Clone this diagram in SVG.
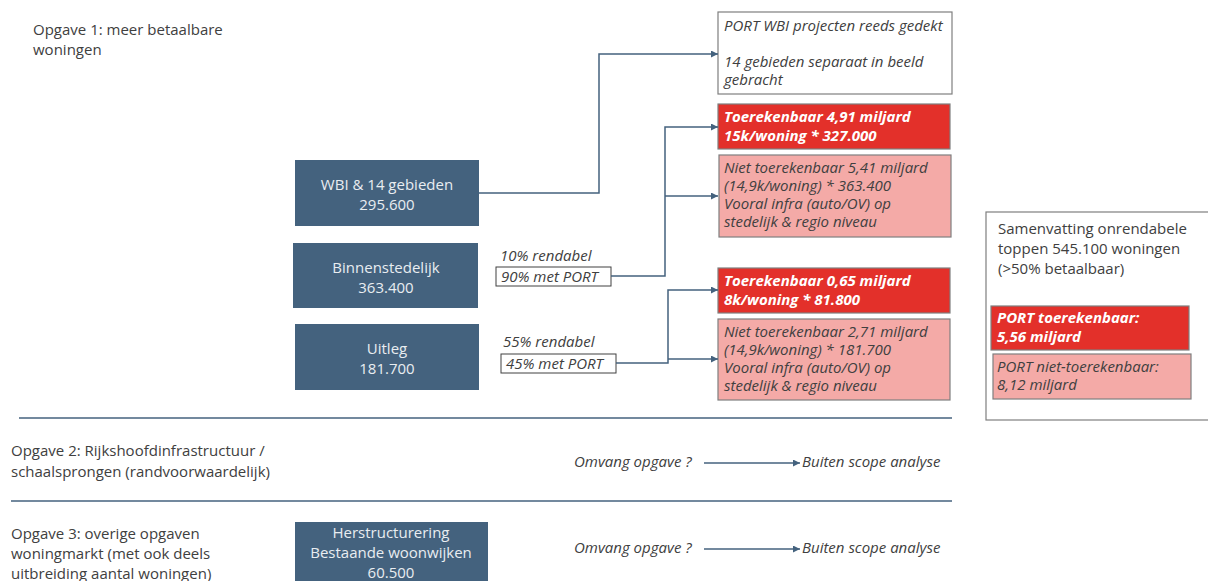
<svg xmlns="http://www.w3.org/2000/svg" width="1208" height="581" viewBox="0 0 1208 581">
<defs>
<marker id="arr" viewBox="0 0 10 10" refX="10" refY="5" markerWidth="7" markerHeight="7" markerUnits="userSpaceOnUse" orient="auto">
<path d="M0,0 L10,5 L0,10 z" fill="#44627e"/>
</marker>
<style>
text{font-family:"Open Sans","Noto Sans","DejaVu Sans",sans-serif;}
.lbl{font-size:15px;fill:#404040;}
.node rect{fill:#44627e;}
.node text{font-size:15px;fill:#e9edf1;text-anchor:middle;}
.it{font-size:15px;font-style:italic;fill:#404040;}
.bi{font-size:15px;font-style:italic;font-weight:bold;fill:#ffffff;}
.white{fill:#ffffff;stroke:#7f7f7f;stroke-width:1.2;}
.red{fill:#e3302a;stroke:#7f7f7f;stroke-width:1.2;}
.pink{fill:#f4aaa7;stroke:#7f7f7f;stroke-width:1.2;}
.conn path,.conn line{fill:none;stroke:#44627e;stroke-width:1.5;}
.sep{stroke:#44627e;stroke-width:1.3;}
.tag{fill:#ffffff;stroke:#404040;stroke-width:1;}
</style>
</defs>
<rect width="1208" height="581" fill="#ffffff"/>

<g id="opgave1">
<text class="lbl" x="33" y="35">Opgave 1: meer betaalbare</text>
<text class="lbl" x="33" y="55">woningen</text>
</g>

<g id="separators">
<line class="sep" x1="19" y1="418" x2="952" y2="418"/>
<line class="sep" x1="11" y1="501" x2="952" y2="501"/>
</g>

<g id="opgave2">
<text class="lbl" x="11" y="456">Opgave 2: Rijkshoofdinfrastructuur /</text>
<text class="lbl" x="11" y="477">schaalsprongen (randvoorwaardelijk)</text>
</g>

<g id="opgave3">
<text class="lbl" x="11" y="539">Opgave 3: overige opgaven</text>
<text class="lbl" x="11" y="559">woningmarkt (met ook deels</text>
<text class="lbl" x="11" y="579">uitbreiding aantal woningen)</text>
</g>

<g id="node-wbi" class="node">
<rect x="295" y="160" width="184" height="66"/>
<text x="387" y="190">WBI &amp; 14 gebieden</text>
<text x="387" y="210">295.600</text>
</g>
<g id="node-binnen" class="node">
<rect x="293" y="243" width="185" height="65"/>
<text x="386" y="273">Binnenstedelijk</text>
<text x="386" y="293">363.400</text>
</g>
<g id="node-uitleg" class="node">
<rect x="295" y="324" width="184" height="66"/>
<text x="387" y="354">Uitleg</text>
<text x="387" y="374">181.700</text>
</g>
<g id="node-herstructurering" class="node">
<rect x="295" y="522" width="193" height="59"/>
<text x="391" y="538">Herstructurering</text>
<text x="391" y="558">Bestaande woonwijken</text>
<text x="391" y="578">60.500</text>
</g>

<g id="box-port-wbi">
<rect class="white" x="718" y="12" width="234" height="82"/>
<text class="it" x="724" y="31">PORT WBI projecten reeds gedekt</text>
<text class="it" x="724" y="67">14 gebieden separaat in beeld</text>
<text class="it" x="724" y="85">gebracht</text>
</g>
<g id="box-toe-491">
<rect class="red" x="718" y="104" width="232" height="45"/>
<text class="bi" x="724" y="122">Toerekenbaar 4,91 miljard</text>
<text class="bi" x="724" y="141">15k/woning * 327.000</text>
</g>
<g id="box-niet-541">
<rect class="pink" x="719" y="155" width="232" height="82"/>
<text class="it" x="724" y="173">Niet toerekenbaar 5,41 miljard</text>
<text class="it" x="724" y="191">(14,9k/woning) * 363.400</text>
<text class="it" x="724" y="209">Vooral infra (auto/OV) op</text>
<text class="it" x="724" y="227">stedelijk &amp; regio niveau</text>
</g>
<g id="box-toe-065">
<rect class="red" x="718" y="268" width="232" height="45"/>
<text class="bi" x="724" y="286">Toerekenbaar 0,65 miljard</text>
<text class="bi" x="724" y="305">8k/woning * 81.800</text>
</g>
<g id="box-niet-271">
<rect class="pink" x="718" y="319" width="232" height="81"/>
<text class="it" x="724" y="337">Niet toerekenbaar 2,71 miljard</text>
<text class="it" x="724" y="355">(14,9k/woning) * 181.700</text>
<text class="it" x="724" y="373">Vooral infra (auto/OV) op</text>
<text class="it" x="724" y="391">stedelijk &amp; regio niveau</text>
</g>

<g id="tag-binnen">
<text class="it" x="500" y="261">10% rendabel</text>
<rect class="tag" x="496" y="267" width="115" height="19"/>
<text class="it" x="501" y="282">90% met PORT</text>
</g>
<g id="tag-uitleg">
<text class="it" x="503" y="347">55% rendabel</text>
<rect class="tag" x="501" y="354" width="115" height="19"/>
<text class="it" x="506" y="369">45% met PORT</text>
</g>

<g id="summary">
<rect x="986" y="212" width="230" height="208" fill="#ffffff" stroke="#7f7f7f" stroke-width="1.2"/>
<text class="lbl" x="998" y="234">Samenvatting onrendabele</text>
<text class="lbl" x="998" y="254">toppen 545.100 woningen</text>
<text class="lbl" x="998" y="274">(&gt;50% betaalbaar)</text>
<rect class="red" x="991" y="306" width="198" height="44"/>
<text class="bi" x="997" y="323">PORT toerekenbaar:</text>
<text class="bi" x="997" y="342">5,56 miljard</text>
<rect class="pink" x="993" y="354" width="198" height="45"/>
<text class="it" x="997" y="372">PORT niet-toerekenbaar:</text>
<text class="it" x="997" y="390">8,12 miljard</text>
</g>

<g id="scope2">
<text class="it" x="574" y="467">Omvang opgave ?</text>
<text class="it" x="802" y="467">Buiten scope analyse</text>
</g>
<g id="scope3">
<text class="it" x="574" y="553">Omvang opgave ?</text>
<text class="it" x="802" y="553">Buiten scope analyse</text>
</g>

<g id="connectors" class="conn">
<path d="M479,193 H599 V54 H718" marker-end="url(#arr)"/>
<path d="M611,276 H665 V127 H718" marker-end="url(#arr)"/>
<path d="M665,196 H718" marker-end="url(#arr)"/>
<path d="M616,363 H668 V290 H718" marker-end="url(#arr)"/>
<path d="M668,359 H718" marker-end="url(#arr)"/>
<path d="M704,463 H800" marker-end="url(#arr)"/>
<path d="M704,549 H800" marker-end="url(#arr)"/>
</g>
</svg>
